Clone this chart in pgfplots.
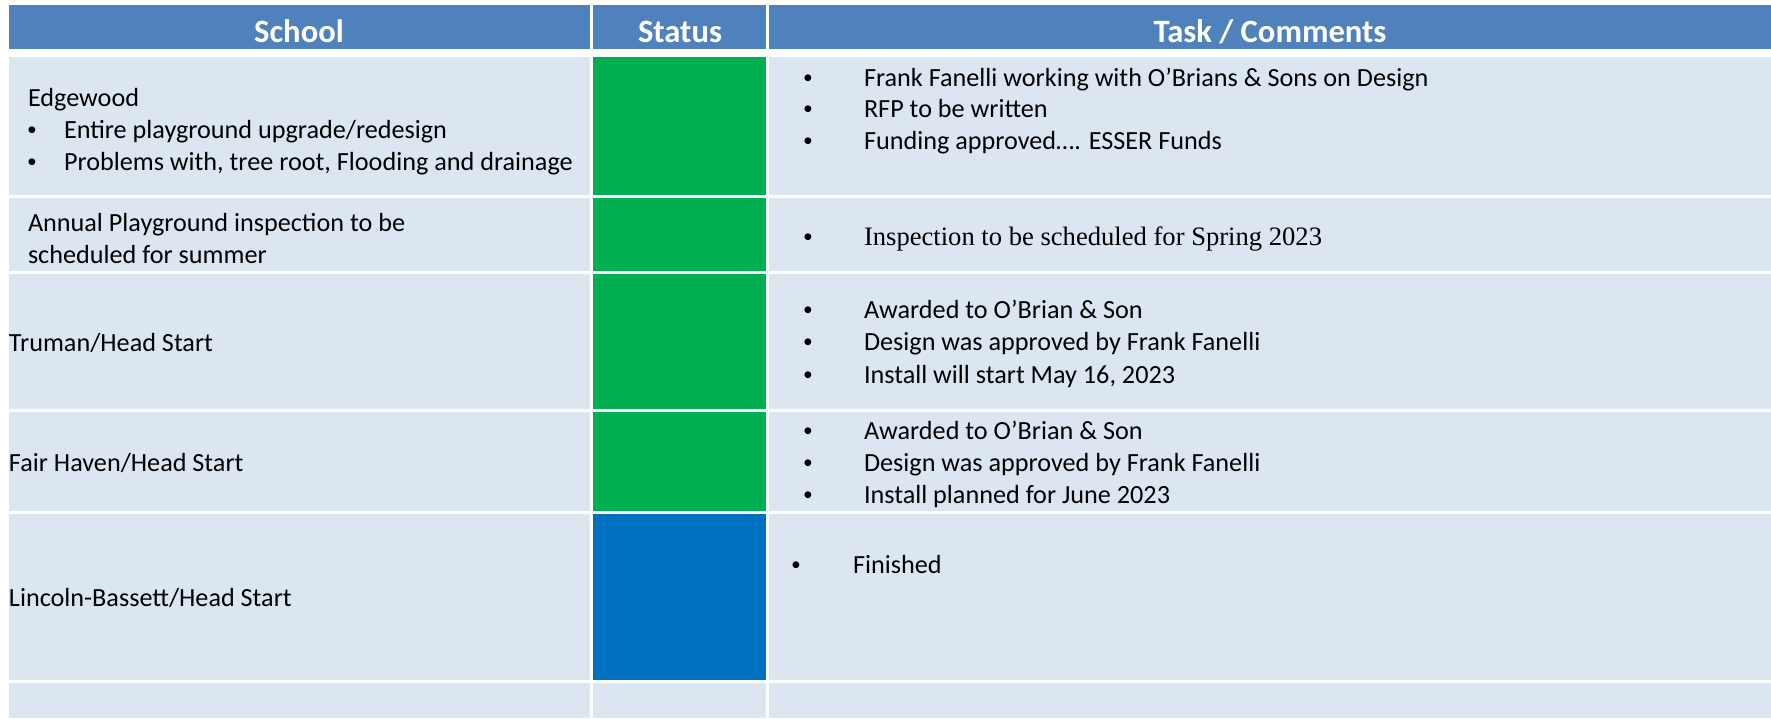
\documentclass[border=0pt]{standalone}
\usepackage{pgfplots}
\pgfplotsset{compat=1.18}
\usepackage{fontspec}
\setmainfont{Carlito}
\newfontfamily\timesfont{Liberation Serif}
\newfontfamily\bulfont{Liberation Sans}
\definecolor{hdr}{HTML}{4F81BD}
\definecolor{rowc}{HTML}{DCE6F1}
\definecolor{stgreen}{HTML}{00B050}
\definecolor{stblue}{HTML}{0070C0}
\newcommand{\cell}[5]{\addplot[fill=#5,draw=none] coordinates {(#1,#3) (#2,#3) (#2,#4) (#1,#4)} -- cycle;}
\newcommand{\body}{\fontsize{13.1pt}{15.5pt}\selectfont}
\newcommand{\hfont}{\fontsize{16.3pt}{19pt}\selectfont\bfseries}
\tikzset{
  txt/.style={inner sep=0pt, outer sep=0pt, anchor=base west, font=\body},
  bul/.style={inner sep=0pt, outer sep=0pt, anchor=base, font=\bulfont\fontsize{12.5pt}{15pt}\selectfont},
  hd/.style={inner sep=0pt, outer sep=0pt, anchor=base, text=white, font=\hfont},
}
\begin{document}
\begin{tikzpicture}
\begin{axis}[
  width=885.5pt, height=359pt, scale only axis,
  xmin=0, xmax=1771, ymin=0, ymax=718, y dir=reverse,
  hide axis, clip=false,
]
% background
\cell{0}{1771}{0}{718}{white}
% header row
\cell{9}{590}{5}{49}{hdr}
\cell{593}{766}{5}{49}{hdr}
\cell{769}{1771}{5}{49}{hdr}
% body rows: school column, status column, task column
\cell{9}{590}{57}{195}{rowc}
\cell{593}{766}{57}{195}{stgreen}
\cell{769}{1771}{57}{195}{rowc}
\cell{9}{590}{198}{271}{rowc}
\cell{593}{766}{198}{271}{stgreen}
\cell{769}{1771}{198}{271}{rowc}
\cell{9}{590}{274}{409}{rowc}
\cell{593}{766}{274}{409}{stgreen}
\cell{769}{1771}{274}{409}{rowc}
\cell{9}{590}{412}{511}{rowc}
\cell{593}{766}{412}{511}{stgreen}
\cell{769}{1771}{412}{511}{rowc}
\cell{9}{590}{514}{680}{rowc}
\cell{593}{766}{514}{680}{stblue}
\cell{769}{1771}{514}{680}{rowc}
\cell{9}{590}{683}{718}{rowc}
\cell{593}{766}{683}{718}{rowc}
\cell{769}{1771}{683}{718}{rowc}
% header text
\node[hd] at (axis cs:299,42) {School};
\node[hd] at (axis cs:680,42) {Status};
\node[hd] at (axis cs:1270,42) {Task / Comments};
% school column
\node[txt] at (axis cs:28,106) {Edgewood};
\node[bul] at (axis cs:32,138) {•};
\node[txt] at (axis cs:64,138) {Entire playground upgrade/redesign};
\node[bul] at (axis cs:32,170) {•};
\node[txt] at (axis cs:64,170) {Problems with, tree root, Flooding and drainage};
\node[txt] at (axis cs:28,231) {Annual Playground inspection to be};
\node[txt] at (axis cs:28,263) {scheduled for summer};
\node[txt] at (axis cs:9,351) {Truman/Head Start};
\node[txt] at (axis cs:9,471) {Fair Haven/Head Start};
\node[txt] at (axis cs:9,606) {Lincoln-Bassett/Head Start};
% task column
\node[bul] at (axis cs:808,86) {•};
\node[txt] at (axis cs:864,86) {Frank Fanelli working with O’Brians \& Sons on Design};
\node[bul] at (axis cs:808,117) {•};
\node[txt] at (axis cs:864,117) {RFP to be written};
\node[bul] at (axis cs:808,149) {•};
\node[txt] at (axis cs:864,149) {Funding approved…. ESSER Funds};
\node[bul] at (axis cs:808,245) {•};
\node[txt, font=\timesfont\fontsize{13.3pt}{16pt}\selectfont] at (axis cs:864,245) {Inspection to be scheduled for Spring 2023};
\node[bul] at (axis cs:808,318) {•};
\node[txt] at (axis cs:864,318) {Awarded to O’Brian \& Son};
\node[bul] at (axis cs:808,350) {•};
\node[txt] at (axis cs:864,350) {Design was approved by Frank Fanelli};
\node[bul] at (axis cs:808,383) {•};
\node[txt] at (axis cs:864,383) {Install will start May 16, 2023};
\node[bul] at (axis cs:808,439) {•};
\node[txt] at (axis cs:864,439) {Awarded to O’Brian \& Son};
\node[bul] at (axis cs:808,471) {•};
\node[txt] at (axis cs:864,471) {Design was approved by Frank Fanelli};
\node[bul] at (axis cs:808,503) {•};
\node[txt] at (axis cs:864,503) {Install planned for June 2023};
\node[bul] at (axis cs:796,573) {•};
\node[txt] at (axis cs:853,573) {Finished};
\end{axis}
\end{tikzpicture}
\end{document}
